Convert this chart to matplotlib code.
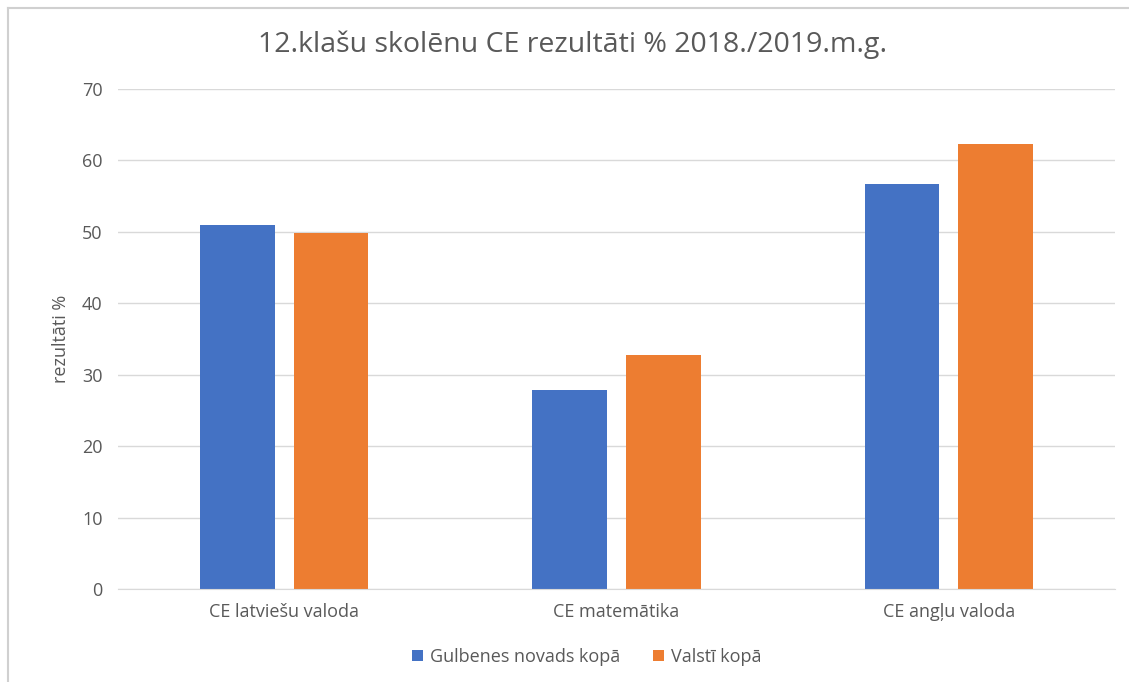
import numpy as np
import matplotlib.pyplot as plt
from matplotlib.lines import Line2D

categories = ["CE latviešu valoda", "CE matemātika", "CE angļu valoda"]
gulbene = [50.9, 27.9, 56.7]
valsti = [49.8, 32.8, 62.3]
series_names = ["Gulbenes novads kopā", "Valstī kopā"]

plt.rcParams['font.family'] = ['Open Sans', 'DejaVu Sans']

fig = plt.figure(figsize=(11.29, 6.82), dpi=100)
ax = fig.add_axes([0.1045, 0.1364, 0.8831, 0.7331])

x = np.arange(len(categories))
w = 0.225
gap = 0.057
b1 = ax.bar(x - (w + gap) / 2, gulbene, w, color='#4472c4', label=series_names[0])
b2 = ax.bar(x + (w + gap) / 2, valsti, w, color='#ed7d31', label=series_names[1])

ax.set_xlim(-0.5, 2.5)
ax.set_ylim(0, 70)
ax.set_yticks(range(0, 71, 10))
ax.yaxis.grid(True, color='#d9d9d9', linewidth=1)
ax.set_axisbelow(True)
for s in ['top', 'right', 'left']:
    ax.spines[s].set_visible(False)
ax.spines['bottom'].set_color('#d9d9d9')
ax.tick_params(axis='both', length=0, colors='#595959', labelsize=13)
ax.tick_params(axis='y', pad=11)
ax.tick_params(axis='x', pad=10)
ax.set_xticks(x)
ax.set_xticklabels(categories)
ax.set_ylabel("rezultāti %", color='#595959', fontsize=13, labelpad=9)

fig.text(0.507, 0.934, "12.klašu skolēnu CE rezultāti % 2018./2019.m.g.",
         ha='center', va='center', fontsize=20.5, color='#595959')

fig.legend(handles=[b1, b2], loc='center', bbox_to_anchor=(0.52, 0.037), ncol=2,
           frameon=False, fontsize=13, handlelength=0.6, handleheight=0.6,
           columnspacing=1.8, handletextpad=0.4, labelcolor='#595959')

# light frame around the chart
fig.add_artist(Line2D([8 / 1129, 1], [1 - 8 / 682, 1 - 8 / 682], transform=fig.transFigure,
                      color='#d0d0d0', linewidth=1.5))
fig.add_artist(Line2D([8 / 1129, 8 / 1129], [0, 1 - 8 / 682], transform=fig.transFigure,
                      color='#d0d0d0', linewidth=1.5))

fig.savefig("out.png", dpi=100)
